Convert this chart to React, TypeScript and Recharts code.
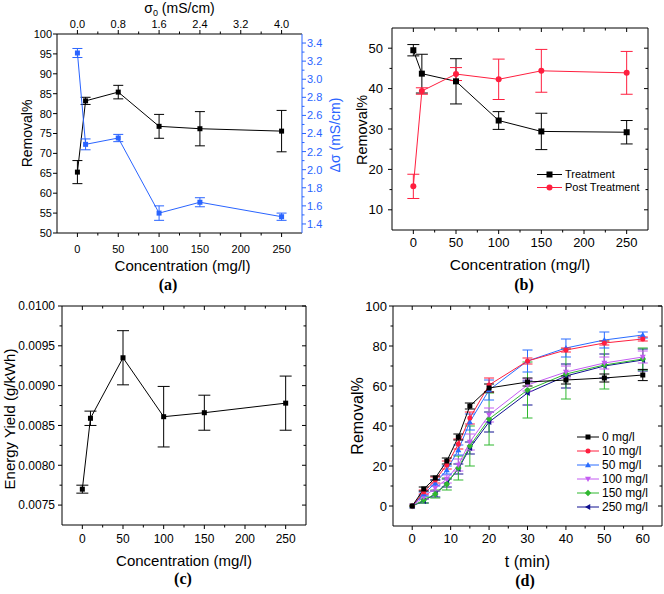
import React from 'react';
import { LineChart, Line, XAxis, YAxis, ErrorBar, Legend } from 'recharts';

const SANS = '"Liberation Sans", Arial, Helvetica, sans-serif';
const SERIF = '"Liberation Serif", "Times New Roman", serif';

const BLACK = '#000000';
const BLUE_A = '#2a64ff';
const RED = '#ff1f3f';
const AX = 2; // axis band thickness

// ---------------- Panel (a) ----------------
const concA = [0, 10, 50, 100, 150, 250];
const removalA = [65.3, 83.2, 85.4, 76.8, 76.2, 75.6];
const removalAErr = [2.9, 0.9, 1.7, 3.0, 4.3, 5.2];
const dSigmaA = [3.29, 2.28, 2.35, 1.52, 1.64, 1.48];
const dSigmaAErr = [0.05, 0.06, 0.04, 0.08, 0.05, 0.04];

const concMajor = [0, 50, 100, 150, 200, 250];
const concMinor = [25, 75, 125, 175, 225];
// top axis of (a): sigma0 labels sitting at the concentration positions above
const sigmaTopLabels = ['0.0', '0.8', '1.6', '2.4', '3.2', '4.0'];
const removalATicks = [50, 55, 60, 65, 70, 75, 80, 85, 90, 95, 100];
const dSigmaMajor = [1.4, 1.6, 1.8, 2.0, 2.2, 2.4, 2.6, 2.8, 3.0, 3.2, 3.4];
const dSigmaMinor = [1.5, 1.7, 1.9, 2.1, 2.3, 2.5, 2.7, 2.9, 3.1, 3.3];

// ---------------- Panel (b) ----------------
const concB = [0, 10, 50, 100, 150, 250];
const treatmentB = [49.5, 43.7, 41.8, 32.1, 29.4, 29.2];
const treatmentBErr = [1.4, 4.8, 5.6, 2.2, 4.5, 2.9];
const postB = [15.8, 39.4, 43.6, 42.3, 44.4, 43.9];
const postBErr = [3.0, 0.8, 1.6, 5.0, 5.3, 5.3];
const removalBMajor = [10, 20, 30, 40, 50];
const removalBMinor = [15, 25, 35, 45];
const legendBNames = ['Treatment', 'Post Treatment'];

// ---------------- Panel (c) ----------------
const concC = [0, 10, 50, 100, 150, 250];
const yieldC = [0.0077, 0.00859, 0.00935, 0.00861, 0.00866, 0.00878];
const yieldCErr = [0.00005, 0.00009, 0.00034, 0.00038, 0.00022, 0.00034];
const yieldMajor = [0.0075, 0.008, 0.0085, 0.009, 0.0095, 0.01];
const yieldMinor = [0.00775, 0.00825, 0.00875, 0.00925, 0.00975];

// ---------------- Panel (d) ----------------
const timeD = [0, 3, 6, 9, 12, 15, 20, 30, 40, 50, 60];
const d0mg = [0, 8.5, 14, 22.5, 34.5, 50, 59, 62, 63, 64, 65.5];
const d0mgErr = [0, 1, 1, 1.5, 1.5, 1.5, 2, 2, 2, 2, 2.8];
const d10mg = [0, 7, 13, 20.5, 31, 44, 60.5, 72.5, 78, 81.5, 83.5];
const d10mgErr = [0, 1, 1.5, 2, 2.5, 3, 3.5, 1.5, 1, 1, 1];
const d50mg = [0, 6, 11.5, 18, 28, 42, 58, 72.5, 79, 83, 85.5];
const d50mgErr = [0, 1, 1.5, 2, 2.5, 4, 5, 5.5, 4.5, 4, 1.5];
const d100mg = [0, 4.5, 9, 13.5, 20.5, 32, 45.5, 60.5, 67, 71.5, 74.5];
const d100mgErr = [0, 1, 1.5, 2, 3, 4, 3.5, 3, 3, 3, 3];
const d150mg = [0, 3, 6, 11, 19, 30, 43.5, 58, 66, 70.5, 73.5];
const d150mgErr = [0, 1.5, 2, 3, 6, 10, 13, 14, 12.5, 12, 5.5];
const d250mg = [0, 2.5, 6, 11.5, 18.5, 29, 42, 56.5, 65, 70, 73];
const d250mgErr = [0, 1, 1.5, 2, 2.5, 3, 5, 6, 6, 6, 5.5];
const namesD = ['0 mg/l', '10 mg/l', '50 mg/l', '100 mg/l', '150 mg/l', '250 mg/l'];
const colorsD = ['#000000', '#ff1f3f', '#2a6cff', '#c45cf2', '#2fb82f', '#101090'];
const shapesD = ['square', 'circle', 'up', 'down', 'diamond', 'left'];
const timeMajor = [0, 10, 20, 30, 40, 50, 60];
const timeMinor = [5, 15, 25, 35, 45, 55];
const removalDMajor = [0, 20, 40, 60, 80, 100];
const removalDMinor = [10, 30, 50, 70, 90];

// ---------------- data tables ----------------
const dataA = concA.map((x, i) => ({ x, rem: removalA[i], remE: removalAErr[i], ds: dSigmaA[i], dsE: dSigmaAErr[i] }));
const dataB = concB.map((x, i) => ({ x, tr: treatmentB[i], trE: treatmentBErr[i], po: postB[i], poE: postBErr[i] }));
const dataC = concC.map((x, i) => ({ x, y: yieldC[i], e: yieldCErr[i] }));
const seriesD = [d0mg, d10mg, d50mg, d100mg, d150mg, d250mg];
const seriesDErr = [d0mgErr, d10mgErr, d50mgErr, d100mgErr, d150mgErr, d250mgErr];
const dataD = timeD.map((t, i) => {
  const row: any = { t };
  seriesD.forEach((s, k) => {
    row['s' + k] = s[i];
    row['e' + k] = seriesDErr[k][i];
  });
  return row;
});

// ---------------- helpers ----------------
function Marker({ shape, cx, cy, s, color }: any) {
  if (cx == null || cy == null || isNaN(cx) || isNaN(cy)) return <g />;
  switch (shape) {
    case 'square':
      return <rect x={cx - s / 2} y={cy - s / 2} width={s} height={s} fill={color} />;
    case 'circle':
      return <circle cx={cx} cy={cy} r={s / 2} fill={color} />;
    case 'up':
      return <polygon points={`${cx},${cy - s * 0.6} ${cx + s * 0.6},${cy + s * 0.45} ${cx - s * 0.6},${cy + s * 0.45}`} fill={color} />;
    case 'down':
      return <polygon points={`${cx},${cy + s * 0.6} ${cx + s * 0.6},${cy - s * 0.45} ${cx - s * 0.6},${cy - s * 0.45}`} fill={color} />;
    case 'diamond':
      return <polygon points={`${cx},${cy - s * 0.65} ${cx + s * 0.65},${cy} ${cx},${cy + s * 0.65} ${cx - s * 0.65},${cy}`} fill={color} />;
    case 'left':
      return <polygon points={`${cx - s * 0.6},${cy} ${cx + s * 0.45},${cy - s * 0.6} ${cx + s * 0.45},${cy + s * 0.6}`} fill={color} />;
    default:
      return <circle cx={cx} cy={cy} r={s / 2} fill={color} />;
  }
}

const dotFn = (shape: string, color: string, s: number) => (p: any) => (
  <Marker key={'m' + p.index} shape={shape} cx={p.cx} cy={p.cy} s={s} color={color} />
);

type Side = 'bottom' | 'top' | 'left' | 'right';
interface TickCfg {
  side: Side;
  majors: number[];
  show?: boolean;
  fmt?: (v: number) => string;
  color?: string;
  fs?: number;
  inward?: boolean;
  major?: number;
  minor?: number;
  gap?: number;
}

function makeTick(c: TickCfg) {
  const color = c.color ?? '#000';
  const fs = c.fs ?? 12;
  const mj = c.major ?? 4;
  const mn = c.minor ?? 2.5;
  const gap = c.gap ?? 2;
  const dir = c.inward ? -1 : 1;
  const labOff = c.inward ? 0 : mj;
  return (p: any) => {
    const x = Number(p.x);
    const y = Number(p.y);
    const v = Number(p.payload?.value);
    const isMj = c.majors.some((m) => Math.abs(m - v) < 1e-7);
    const len = isMj ? mj : mn;
    const lab = c.show && isMj ? (c.fmt ? c.fmt(v) : String(v)) : null;
    let line: any = null;
    let text: any = null;
    if (c.side === 'bottom') {
      line = <line x1={x} x2={x} y1={y} y2={y + dir * len} stroke={color} strokeWidth={1} />;
      if (lab) text = <text x={x} y={y + labOff + gap + fs * 0.72} textAnchor="middle" fontFamily={SANS} fontSize={fs} fill={color}>{lab}</text>;
    } else if (c.side === 'top') {
      line = <line x1={x} x2={x} y1={y} y2={y - dir * len} stroke={color} strokeWidth={1} />;
      if (lab) text = <text x={x} y={y - labOff - gap} textAnchor="middle" fontFamily={SANS} fontSize={fs} fill={color}>{lab}</text>;
    } else if (c.side === 'left') {
      line = <line x1={x} x2={x - dir * len} y1={y} y2={y} stroke={color} strokeWidth={1} />;
      if (lab) text = <text x={x - labOff - gap} y={y + fs * 0.36} textAnchor="end" fontFamily={SANS} fontSize={fs} fill={color}>{lab}</text>;
    } else {
      line = <line x1={x} x2={x + dir * len} y1={y} y2={y} stroke={color} strokeWidth={1} />;
      if (lab) text = <text x={x + labOff + gap} y={y + fs * 0.36} textAnchor="start" fontFamily={SANS} fontSize={fs} fill={color}>{lab}</text>;
    }
    return (
      <g>
        {line}
        {text}
      </g>
    );
  };
}

const axisCommon = {
  type: 'number' as const,
  allowDataOverflow: true,
  interval: 0 as const,
  tickSize: 0,
  tickMargin: 0,
  tickLine: false,
};

const VTitle = (text: string, cx: number, cy: number, fs: number, color = '#000') => () => (
  <text
    x={cx + fs * 0.36}
    y={cy}
    transform={`rotate(-90 ${cx + fs * 0.36} ${cy})`}
    textAnchor="middle"
    fontFamily={SANS}
    fontSize={fs}
    fill={color}
  >
    {text}
  </text>
);

const XTitle = (text: any, cx: number, y: number, fs: number, tag: string, tagX: number, tagY: number) => () => (
  <g>
    <text x={cx} y={y} textAnchor="middle" fontFamily={SANS} fontSize={fs} fill="#000">
      {text}
    </text>
    <text x={tagX} y={tagY} textAnchor="middle" fontFamily={SERIF} fontWeight="bold" fontSize={16} fill="#000">
      {tag}
    </text>
  </g>
);

function LegendBox({ names, colors, shapes, rowH, lineLen, fs, size }: any) {
  const w = 130;
  return (
    <svg width={w} height={rowH * names.length} style={{ display: 'block', overflow: 'visible' }}>
      {names.map((n: string, i: number) => {
        const y = rowH * i + rowH / 2;
        return (
          <g key={n}>
            <line x1={0} x2={lineLen} y1={y} y2={y} stroke={colors[i]} strokeWidth={1} />
            <Marker shape={shapes[i]} cx={lineLen / 2} cy={y} s={size} color={colors[i]} />
            <text x={lineLen + 3} y={y + fs * 0.36} fontFamily={SANS} fontSize={fs} fill="#000">
              {n}
            </text>
          </g>
        );
      })}
    </svg>
  );
}

const mkMargin = (W: number, H: number, L: number, T: number, R: number, B: number) => ({
  top: T - AX,
  right: W - R - AX,
  bottom: H - B - AX,
  left: L - AX,
});

// ---------------- Panel A ----------------
function PanelA() {
  const L = 57, T = 34, R = 302, B = 233;
  return (
    <div style={{ position: 'absolute', left: 0, top: 0 }}>
      <LineChart width={350} height={300} data={dataA} margin={mkMargin(350, 300, L, T, R, B)}>
        <XAxis
          {...axisCommon}
          xAxisId="b"
          dataKey="x"
          domain={[-25, 275]}
          ticks={[...concMajor, ...concMinor]}
          height={AX}
          axisLine={{ stroke: '#000' }}
          tick={makeTick({ side: 'bottom', majors: concMajor, show: true, fs: 11, gap: 8 })}
          label={XTitle('Concentration (mg/l)', (L + R) / 2 + 3, B + 38, 15, '(a)', 168, B + 57)}
        />
        <XAxis
          {...axisCommon}
          xAxisId="t"
          orientation="top"
          dataKey="x"
          domain={[-25, 275]}
          ticks={[...concMajor, ...concMinor]}
          height={AX}
          axisLine={{ stroke: '#000' }}
          tick={makeTick({
            side: 'top',
            majors: concMajor,
            show: true,
            fs: 11,
            gap: 2,
            fmt: (v) => sigmaTopLabels[concMajor.indexOf(v)] ?? '',
          })}
          label={() => (
            <text x={(L + R) / 2} y={13} textAnchor="middle" fontFamily={SANS} fontSize={14} fill="#000">
              σ<tspan dy={3} fontSize={9}>0</tspan>
              <tspan dy={-3}> (mS/cm)</tspan>
            </text>
          )}
        />
        <YAxis
          {...axisCommon}
          yAxisId="l"
          domain={[50, 100]}
          ticks={removalATicks}
          width={AX}
          axisLine={{ stroke: '#000' }}
          tick={makeTick({ side: 'left', majors: removalATicks, show: true, fs: 11, gap: 1 })}
          label={VTitle('Removal%', 27, (T + B) / 2, 14)}
        />
        <YAxis
          {...axisCommon}
          yAxisId="r"
          orientation="right"
          domain={[1.3, 3.5]}
          ticks={[...dSigmaMajor, ...dSigmaMinor]}
          width={AX}
          axisLine={{ stroke: BLUE_A }}
          tick={makeTick({ side: 'right', majors: dSigmaMajor, show: true, fs: 11, gap: 1, color: BLUE_A, fmt: (v) => v.toFixed(1) })}
          label={VTitle('Δσ (mS/cm)', 335, 135, 14, BLUE_A)}
        />
        <Line xAxisId="b" yAxisId="l" dataKey="rem" stroke={BLACK} strokeWidth={1} isAnimationActive={false} dot={dotFn('square', BLACK, 5)} activeDot={false}>
          <ErrorBar dataKey="remE" width={5} stroke={BLACK} strokeWidth={1} direction="y" />
        </Line>
        <Line xAxisId="b" yAxisId="r" dataKey="ds" stroke={BLUE_A} strokeWidth={1} isAnimationActive={false} dot={dotFn('square', BLUE_A, 5)} activeDot={false}>
          <ErrorBar dataKey="dsE" width={5} stroke={BLUE_A} strokeWidth={1} direction="y" />
        </Line>
      </LineChart>
    </div>
  );
}

// ---------------- Panel B ----------------
function PanelB() {
  const L = 60, T = 28, R = 316, B = 230;
  return (
    <div style={{ position: 'absolute', left: 332, top: 0 }}>
      <LineChart width={332} height={300} data={dataB} margin={mkMargin(332, 300, L, T, R, B)}>
        <XAxis
          {...axisCommon}
          xAxisId="b"
          dataKey="x"
          domain={[-25, 275]}
          ticks={[...concMajor, ...concMinor]}
          height={AX}
          axisLine={{ stroke: '#000' }}
          tick={makeTick({ side: 'bottom', majors: concMajor, show: true, fs: 13, gap: 4 })}
          label={XTitle('Concentration (mg/l)', (L + R) / 2, B + 40, 15.5, '(b)', 192, B + 60)}
        />
        <XAxis
          {...axisCommon}
          xAxisId="t"
          orientation="top"
          dataKey="x"
          domain={[-25, 275]}
          ticks={[...concMajor, ...concMinor]}
          height={AX}
          axisLine={{ stroke: '#000' }}
          tick={makeTick({ side: 'top', majors: concMajor, inward: true })}
        />
        <YAxis
          {...axisCommon}
          yAxisId="l"
          domain={[5, 55]}
          ticks={[...removalBMajor, ...removalBMinor]}
          width={AX}
          axisLine={{ stroke: '#000' }}
          tick={makeTick({ side: 'left', majors: removalBMajor, show: true, fs: 13, gap: 5 })}
          label={VTitle('Removal%', 30, 130, 14.5)}
        />
        <YAxis
          {...axisCommon}
          yAxisId="r"
          orientation="right"
          domain={[5, 55]}
          ticks={[...removalBMajor, ...removalBMinor]}
          width={AX}
          axisLine={{ stroke: '#000' }}
          tick={makeTick({ side: 'right', majors: removalBMajor, inward: true })}
        />
        <Line xAxisId="b" yAxisId="l" dataKey="tr" stroke={BLACK} strokeWidth={1} isAnimationActive={false} dot={dotFn('square', BLACK, 6)} activeDot={false}>
          <ErrorBar dataKey="trE" width={6} stroke={BLACK} strokeWidth={1} direction="y" />
        </Line>
        <Line xAxisId="b" yAxisId="l" dataKey="po" stroke={RED} strokeWidth={1} isAnimationActive={false} dot={dotFn('circle', RED, 6)} activeDot={false}>
          <ErrorBar dataKey="poE" width={6} stroke={RED} strokeWidth={1} direction="y" />
        </Line>
        <Legend
          layout="vertical"
          align="center"
          verticalAlign="middle"
          wrapperStyle={{ left: 205, top: 168, width: 130, height: 26 }}
          content={() => (
            <LegendBox names={legendBNames} colors={[BLACK, RED]} shapes={['square', 'circle']} rowH={13} lineLen={25} fs={11} size={6} />
          )}
        />
      </LineChart>
    </div>
  );
}

// ---------------- Panel C ----------------
function PanelC() {
  const L = 62, T = 16, R = 306, B = 235;
  return (
    <div style={{ position: 'absolute', left: 0, top: 290 }}>
      <LineChart width={332} height={304} data={dataC} margin={mkMargin(332, 304, L, T, R, B)}>
        <XAxis
          {...axisCommon}
          xAxisId="b"
          dataKey="x"
          domain={[-25, 275]}
          ticks={[...concMajor, ...concMinor]}
          height={AX}
          axisLine={{ stroke: '#000' }}
          tick={makeTick({ side: 'bottom', majors: concMajor, show: true, fs: 12, gap: 5 })}
          label={XTitle('Concentration (mg/l)', (L + R) / 2, B + 41, 15, '(c)', 183, B + 59)}
        />
        <XAxis
          {...axisCommon}
          xAxisId="t"
          orientation="top"
          dataKey="x"
          domain={[-25, 275]}
          ticks={[...concMajor, ...concMinor]}
          height={AX}
          axisLine={{ stroke: '#000' }}
          tick={makeTick({ side: 'top', majors: concMajor, inward: true })}
        />
        <YAxis
          {...axisCommon}
          yAxisId="l"
          domain={[0.00725, 0.01]}
          ticks={[...yieldMajor, ...yieldMinor]}
          width={AX}
          axisLine={{ stroke: '#000' }}
          tick={makeTick({ side: 'left', majors: yieldMajor, show: true, fs: 12, gap: 3, fmt: (v) => v.toFixed(4) })}
          label={VTitle('Energy Yield (g/kWh)', 10, 129, 15)}
        />
        <YAxis
          {...axisCommon}
          yAxisId="r"
          orientation="right"
          domain={[0.00725, 0.01]}
          ticks={[...yieldMajor, ...yieldMinor]}
          width={AX}
          axisLine={{ stroke: '#000' }}
          tick={makeTick({ side: 'right', majors: yieldMajor, inward: true })}
        />
        <Line xAxisId="b" yAxisId="l" dataKey="y" stroke={BLACK} strokeWidth={1} isAnimationActive={false} dot={dotFn('square', BLACK, 5)} activeDot={false}>
          <ErrorBar dataKey="e" width={6} stroke={BLACK} strokeWidth={1} direction="y" />
        </Line>
      </LineChart>
    </div>
  );
}

// ---------------- Panel D ----------------
function PanelD() {
  const L = 61, T = 16, R = 330, B = 236;
  const order = [5, 4, 3, 2, 1, 0];
  return (
    <div style={{ position: 'absolute', left: 332, top: 290 }}>
      <LineChart width={332} height={304} data={dataD} margin={mkMargin(332, 304, L, T, R, B)}>
        <XAxis
          {...axisCommon}
          xAxisId="b"
          dataKey="t"
          domain={[-5, 65]}
          ticks={[...timeMajor, ...timeMinor]}
          height={AX}
          axisLine={{ stroke: '#000' }}
          tick={makeTick({ side: 'bottom', majors: timeMajor, show: true, fs: 13, gap: 4 })}
          label={XTitle('t (min)', (L + R) / 2, B + 41, 16, '(d)', 193, B + 60)}
        />
        <XAxis
          {...axisCommon}
          xAxisId="t"
          orientation="top"
          dataKey="t"
          domain={[-5, 65]}
          ticks={[...timeMajor, ...timeMinor]}
          height={AX}
          axisLine={{ stroke: '#000' }}
          tick={makeTick({ side: 'top', majors: timeMajor, inward: true })}
        />
        <YAxis
          {...axisCommon}
          yAxisId="l"
          domain={[-10, 100]}
          ticks={[...removalDMajor, ...removalDMinor]}
          width={AX}
          axisLine={{ stroke: '#000' }}
          tick={makeTick({ side: 'left', majors: removalDMajor, show: true, fs: 13, gap: 2 })}
          label={VTitle('Removal%', 25, 126, 16)}
        />
        <YAxis
          {...axisCommon}
          yAxisId="r"
          orientation="right"
          domain={[-10, 100]}
          ticks={[...removalDMajor, ...removalDMinor]}
          width={AX}
          axisLine={{ stroke: '#000' }}
          tick={makeTick({ side: 'right', majors: removalDMajor, inward: true })}
        />
        {order.map((k) => (
          <Line
            key={'s' + k}
            xAxisId="b"
            yAxisId="l"
            dataKey={'s' + k}
            stroke={colorsD[k]}
            strokeWidth={1}
            isAnimationActive={false}
            dot={dotFn(shapesD[k], colorsD[k], 5)}
            activeDot={false}
          >
            <ErrorBar dataKey={'e' + k} width={5} stroke={colorsD[k]} strokeWidth={1} direction="y" />
          </Line>
        ))}
        <Legend
          layout="vertical"
          align="center"
          verticalAlign="middle"
          wrapperStyle={{ left: 245, top: 140, width: 130, height: 84 }}
          content={() => (
            <LegendBox names={namesD} colors={colorsD} shapes={shapesD} rowH={14} lineLen={22} fs={12} size={5} />
          )}
        />
      </LineChart>
    </div>
  );
}

export default function App() {
  return (
    <div style={{ position: 'absolute', left: 0, top: 0, width: 664, height: 594, background: '#fff', overflow: 'hidden' }}>
      <PanelB />
      <PanelD />
      <PanelC />
      <PanelA />
    </div>
  );
}
